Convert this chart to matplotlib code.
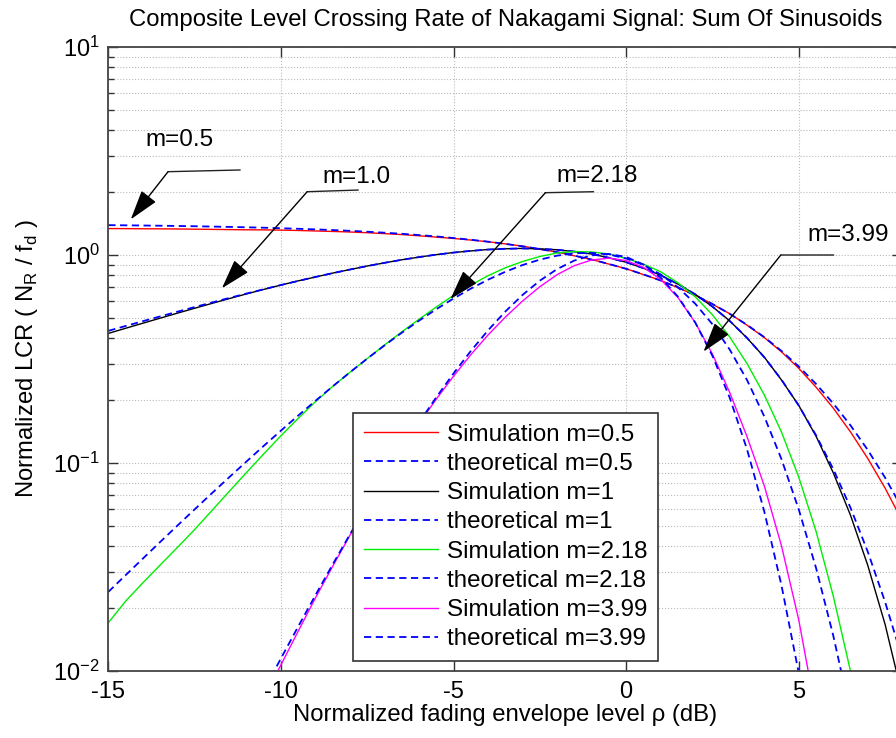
import matplotlib
matplotlib.use('Agg')
import matplotlib.pyplot as plt
from matplotlib.ticker import NullLocator, NullFormatter

# envelope level in dB
rho_db = [-15, -14.5, -14, -13.5, -13, -12.5, -12, -11.5, -11, -10.5,
          -10, -9.5, -9, -8.5, -8, -7.5, -7, -6.5, -6, -5.5,
          -5, -4.5, -4, -3.5, -3, -2.5, -2, -1.5, -1, -0.5,
          0, 0.5, 1, 1.5, 2, 2.5, 3, 3.5, 4, 4.5,
          5, 5.5, 6, 6.5, 7, 7.5, 8]

# m = 0.5
sim_m05 = [1.340, 1.339, 1.337, 1.336, 1.334, 1.331, 1.328, 1.325, 1.322, 1.321,
           1.317, 1.312, 1.305, 1.298, 1.290, 1.280, 1.267, 1.254, 1.237, 1.219,
           1.201, 1.180, 1.158, 1.131, 1.103, 1.066, 1.033, 0.991, 0.952, 0.904,
           0.859, 0.805, 0.755, 0.696, 0.641, 0.580, 0.522, 0.460, 0.401, 0.3421,
           0.2852, 0.2315, 0.1835, 0.1409, 0.1050, 0.0757, 0.0525]
theo_m05 = [1.392, 1.389, 1.386, 1.383, 1.379, 1.375, 1.370, 1.365, 1.359, 1.353,
            1.345, 1.337, 1.328, 1.318, 1.307, 1.294, 1.280, 1.265, 1.247, 1.228,
            1.207, 1.184, 1.159, 1.131, 1.101, 1.068, 1.032, 0.9926, 0.9507, 0.9057,
            0.8578, 0.8070, 0.7536, 0.6979, 0.6403, 0.5813, 0.5215, 0.4617, 0.4028, 0.3456,
            0.2910, 0.2399, 0.1932, 0.1515, 0.1154, 0.0850, 0.0603]

# m = 1
sim_m1 = [0.4198, 0.4443, 0.4700, 0.4970, 0.5252, 0.5546, 0.5852, 0.6170, 0.6499, 0.6831,
          0.7170, 0.7510, 0.7838, 0.8185, 0.8512, 0.8852, 0.9168, 0.9485, 0.9768, 1.004,
          1.028, 1.046, 1.063, 1.071, 1.076, 1.070, 1.060, 1.038, 1.011, 0.9698,
          0.9230, 0.8640, 0.7995, 0.7248, 0.6475, 0.5640, 0.4822, 0.3990, 0.3230, 0.2505,
          0.1890, 0.1345, 0.08964, 0.05595, 0.03214, 0.01675, 0.00756]
theo_m1 = [0.4319, 0.4557, 0.4806, 0.5066, 0.5337, 0.5619, 0.5911, 0.6214, 0.6525, 0.6845,
           0.7172, 0.7505, 0.7842, 0.8180, 0.8517, 0.8848, 0.9172, 0.9481, 0.9772, 1.004,
           1.027, 1.047, 1.062, 1.072, 1.075, 1.071, 1.059, 1.039, 1.010, 0.9706,
           0.9221, 0.8646, 0.7987, 0.7255, 0.6469, 0.5647, 0.4815, 0.3998, 0.3223, 0.2513,
           0.1887, 0.1359, 0.09337, 0.06082, 0.03737, 0.02148, 0.01145]

# m = 2.18
sim_m218 = [0.01705, 0.02166, 0.02655, 0.03231, 0.03924, 0.04787, 0.05904, 0.07298, 0.08992, 0.1105,
            0.1352, 0.1640, 0.1971, 0.2336, 0.2730, 0.3176, 0.3694, 0.4271, 0.4908, 0.5625,
            0.6394, 0.7168, 0.7952, 0.8681, 0.9308, 0.9836, 1.023, 1.039, 1.034, 1.011,
            0.9627, 0.9044, 0.8305, 0.7347, 0.6299, 0.5153, 0.4034, 0.3007, 0.2127, 0.1407,
            0.08544, 0.04691, 0.02288, 0.009942, 0.003792, 0.00125, 0.00035]
theo_m218 = [0.02401, 0.02888, 0.03471, 0.04169, 0.04999, 0.05984, 0.07156, 0.08536, 0.1016, 0.1208,
             0.1431, 0.1691, 0.1991, 0.2336, 0.2730, 0.3176, 0.3676, 0.4229, 0.4835, 0.5488,
             0.6178, 0.6892, 0.7610, 0.8307, 0.8950, 0.9503, 0.9929, 1.019, 1.024, 1.006,
             0.9627, 0.8954, 0.8063, 0.6997, 0.5832, 0.4642, 0.3508, 0.2506, 0.1675, 0.1042,
             0.05975, 0.03127, 0.01476, 0.006214, 0.002298, 0.000735, 0.000200]

# m = 3.99
sim_m399 = [0.000250, 0.000368, 0.000540, 0.000792, 0.001158, 0.001689, 0.002455, 0.003560, 0.005141, 0.007389,
            0.01070, 0.01554, 0.02246, 0.03190, 0.04496, 0.06282, 0.08610, 0.1168, 0.1549, 0.2029,
            0.2615, 0.3317, 0.4127, 0.5029, 0.6012, 0.7040, 0.8045, 0.8891, 0.9463, 0.9655,
            0.9401, 0.8726, 0.7629, 0.6242, 0.4736, 0.3336, 0.2181, 0.1339, 0.07779, 0.03988,
            0.01756, 0.006252, 0.001828, 0.000430, 0.0000788, 0.0000111, 0.00000114]
theo_m399 = [0.000272, 0.000400, 0.000587, 0.000861, 0.001259, 0.001836, 0.002669, 0.003870, 0.005588, 0.008031,
             0.01150, 0.01636, 0.02315, 0.03255, 0.04541, 0.06282, 0.08610, 0.1168, 0.1565, 0.2070,
             0.2696, 0.3455, 0.4344, 0.5350, 0.6430, 0.7529, 0.8558, 0.9408, 0.9961, 1.011,
             0.9793, 0.8996, 0.7785, 0.6305, 0.4736, 0.3271, 0.2058, 0.1164, 0.05849, 0.02573,
             0.009753, 0.003126, 0.000831, 0.000179, 0.0000303, 0.00000395, 0.00000038]

series = [
    (sim_m05, theo_m05, '#ff0000', '0.5'),
    (sim_m1, theo_m1, '#000000', '1'),
    (sim_m218, theo_m218, '#00ee00', '2.18'),
    (sim_m399, theo_m399, '#ff00ff', '3.99'),
]

plt.rcParams['font.family'] = ['Liberation Sans', 'DejaVu Sans']
plt.rcParams['axes.unicode_minus'] = False
plt.rcParams['mathtext.fontset'] = 'custom'
plt.rcParams['mathtext.rm'] = 'Liberation Sans'

fig = plt.figure(figsize=(8.96, 7.38), dpi=100)
ax = fig.add_axes([0.1209, 0.0908, 0.8862, 0.8455])

for sim, theo, col, m in series:
    ax.semilogy(rho_db, sim, color=col, lw=1.0, label='Simulation m=' + m)
    ax.semilogy(rho_db, theo, color='#0000ff', lw=1.3, ls=(0, (4, 2.5)),
                label='theoretical m=' + m)

ax.set_xlim(-15, 8)
ax.set_ylim(1e-2, 1e1)
ax.set_xticks([-15, -10, -5, 0, 5])
ax.xaxis.set_minor_locator(NullLocator())
ax.yaxis.set_minor_formatter(NullFormatter())

ax.grid(True, which='major', ls=':', color='#bbbbbb', lw=0.8)
ax.grid(True, which='minor', axis='y', ls=':', color='#bbbbbb', lw=0.8)
ax.tick_params(which='both', direction='in', top=True, right=True,
               color='#333333', labelsize=17)
ax.tick_params(which='major', length=7, width=1)
ax.tick_params(which='minor', length=4, width=1)
ax.tick_params(axis='x', pad=7)
ax.tick_params(axis='y', pad=6)
for s in ax.spines.values():
    s.set_color('#444444')
    s.set_linewidth(1.3)

ax.set_title('Composite Level Crossing Rate of Nakagami Signal: Sum Of Sinusoids',
             fontsize=17.2, pad=15)
ax.set_xlabel('Normalized fading envelope level \u03c1 (dB)', fontsize=17.2, labelpad=1)
ax.set_ylabel('Normalized LCR ( N$_{\\mathregular{R}}$ / f$_{\\mathregular{d}}$ )',
              fontsize=17.2, labelpad=10)

# callouts: (label, text pos, leader start, leader end, arrow tip)
callouts = [
    ('m=0.5', (-12.95, 3.57), (-13.27, 2.515), (-11.18, 2.563), (-14.35, 1.484)),
    ('m=1.0', (-7.82, 2.371), (-9.24, 2.015), (-7.76, 2.053), (-11.71, 0.692)),
    ('m=2.18', (-0.83, 2.398), (-2.34, 1.993), (-0.945, 2.015), (-5.09, 0.614)),
    ('m=3.99', (6.42, 1.248), (4.48, 1.0), (6.01, 1.0), (2.24, 0.343)),
]
for txt, tpos, p0, p1, tip in callouts:
    ax.text(tpos[0], tpos[1], txt, ha='center', va='center', fontsize=17.5)
    ax.annotate('', xy=p1, xytext=p0,
                arrowprops=dict(arrowstyle='-', color='#222222', lw=1,
                                shrinkA=0, shrinkB=0))
    ax.annotate('', xy=tip, xytext=p0,
                arrowprops=dict(arrowstyle='-|>,head_length=0.85,head_width=0.26',
                                color='k', lw=1, mutation_scale=22,
                                shrinkA=0, shrinkB=0))

leg = ax.legend(loc='upper left', bbox_to_anchor=(352.7 / 896, 1 - 412.7 / 738),
                bbox_transform=fig.transFigure, borderaxespad=0,
                fontsize=17.4, handlelength=3.1, handletextpad=0.35,
                labelspacing=0.3, borderpad=0.45, fancybox=False,
                framealpha=1, edgecolor='#333333')
leg.get_frame().set_linewidth(1.2)

fig.savefig('out.png', dpi=100)
